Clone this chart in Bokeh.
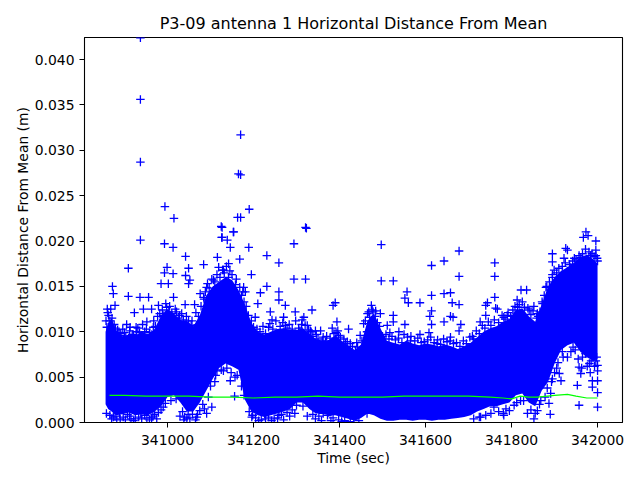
from bokeh.plotting import figure
from bokeh.models import Range1d, FixedTicker, PrintfTickFormatter
from bokeh.embed import file_html
from bokeh.resources import INLINE

# Dense core of the scatter: time (sec), upper and lower edge (m)
core_t = [340856, 340862, 340870, 340880, 340895, 340910, 340925, 340940, 340955, 340970, 340985,
          341000, 341015, 341030, 341045, 341060, 341075, 341090, 341105, 341120, 341135,
          341150, 341165, 341180, 341195, 341210, 341225, 341240, 341255, 341270, 341285,
          341300, 341315, 341330, 341345, 341360, 341375, 341390, 341405, 341420, 341435,
          341450, 341465, 341480, 341495, 341510, 341525, 341540, 341555, 341570, 341585,
          341600, 341615, 341630, 341645, 341660, 341675, 341690, 341705, 341720, 341735,
          341750, 341765, 341780, 341795, 341810, 341825, 341840, 341855, 341870, 341885,
          341900, 341915, 341930, 341945, 341960, 341975, 341990, 342000]
core_hi = [0.0100, 0.0110, 0.0115, 0.0102, 0.0095, 0.0097, 0.0096, 0.0100, 0.0097, 0.0103, 0.0118,
           0.0125, 0.0120, 0.0113, 0.0112, 0.0106, 0.0118, 0.0140, 0.0150, 0.0155, 0.0160,
           0.0157, 0.0146, 0.0130, 0.0110, 0.0100, 0.0097, 0.0100, 0.0103, 0.0104, 0.0102,
           0.0102, 0.0104, 0.0098, 0.0092, 0.0090, 0.0091, 0.0096, 0.0090, 0.0085, 0.0080,
           0.0086, 0.0112, 0.0120, 0.0104, 0.0090, 0.0088, 0.0086, 0.0090, 0.0087, 0.0085,
           0.0087, 0.0086, 0.0084, 0.0086, 0.0084, 0.0081, 0.0084, 0.0088, 0.0094, 0.0100,
           0.0104, 0.0106, 0.0111, 0.0114, 0.0124, 0.0126, 0.0117, 0.0111, 0.0130, 0.0150,
           0.0160, 0.0167, 0.0171, 0.0176, 0.0182, 0.0185, 0.0180, 0.0175]
core_lo = [0.0020, 0.0015, 0.0012, 0.0008, 0.0009, 0.0011, 0.0008, 0.0009, 0.0008, 0.0012, 0.0018,
           0.0028, 0.0030, 0.0022, 0.0012, 0.0012, 0.0022, 0.0035, 0.0048, 0.0060, 0.0065,
           0.0062, 0.0058, 0.0025, 0.0012, 0.0008, 0.0006, 0.0008, 0.0010, 0.0012, 0.0015,
           0.0022, 0.0022, 0.0015, 0.0010, 0.0010, 0.0008, 0.0008, 0.0006, 0.0004, 0.0002,
           0.0005, 0.0010, 0.0008, 0.0004, 0.0002, 0.0002, 0.0003, 0.0003, 0.0002, 0.0003,
           0.0003, 0.0002, 0.0003, 0.0003, 0.0004, 0.0005, 0.0006, 0.0008, 0.0012, 0.0015,
           0.0018, 0.0018, 0.0020, 0.0022, 0.0030, 0.0032, 0.0022, 0.0018, 0.0035, 0.0045,
           0.0065, 0.0080, 0.0085, 0.0088, 0.0078, 0.0072, 0.0068, 0.0070]

# Individual points outside the dense core: time (sec), distance (m)
pts_t = [340937, 340937, 340937, 340937, 340994, 341015, 341127, 341127, 341154, 341170,
         341170, 341170, 341190, 341323, 340993, 341013, 341042, 340909, 340999, 341049,
         341084, 340993, 341042, 341013, 340872, 340874, 340985, 341002, 341049, 341052,
         340909, 340936, 340956, 340860, 340878, 340923, 340944, 340963, 340979, 341014,
         341041, 341063,
         341116, 341125, 341126, 341139, 341153, 341146, 341163, 341165, 341119, 341130,
         341142, 341107, 341091, 341076, 341146, 341130, 341157, 341115, 341156,
         341168, 341189, 341231, 341259, 341321, 341294, 341294, 341321, 341195, 341231,
         341216, 341259, 341259, 341274, 341210, 341177, 341181, 341336, 341385, 341390,
         341394, 341421, 341468, 341476, 341239, 341297, 341317, 341344, 341367, 341387,
         341243, 341270, 341204, 341200, 341235, 341274, 341313, 341325, 341332, 341360,
         341398, 341414, 341437, 341456, 341464,
         341196, 341259, 341325, 341375, 341433, 341464, 341228,
         341497, 341497, 341525, 341678, 341643, 341614, 341678, 341761, 341761, 341761,
         341744, 341740, 341557, 341552, 341560, 341587, 341614, 341643, 341658, 341662,
         341678, 341763, 341767, 341484, 341495, 341525, 341525, 341614, 341610, 341643,
         341658, 341664, 341614, 341678, 341682, 341709, 341727, 341740, 341552, 341538,
         341517, 341511, 341587, 341608, 341658, 341782, 341790, 341565, 341627, 341697,
         341782, 341728, 341759,
         341973, 341967, 341978, 341996, 341926, 341930, 341895, 341895, 341996, 341996,
         341895, 341822, 341835, 341852, 341806, 341790, 341957, 342000, 341890, 341852,
         341837, 342000, 342000, 342000, 341988, 341988, 341957, 341961, 341953, 341915,
         341887, 341781, 341787, 341806,
         341922, 341946, 341961, 341984, 341880, 341872, 341860, 341841, 341814, 341899,
         341938,
         341860, 341868, 341891, 341911, 341930, 341981, 341996, 341821,
         340874, 340890, 340921, 340940, 340963, 340979, 341029, 341045, 341068, 341091,
         341103,
         340859, 340866, 340890, 340913, 340928, 340952, 340967, 340998, 341021, 341033,
         341049, 341068, 341084]
pts_v = [0.0424, 0.0356, 0.0287, 0.0201, 0.0238, 0.0225, 0.0215, 0.0204, 0.0210, 0.0317,
         0.0273, 0.0226, 0.0235, 0.0214, 0.0197, 0.0193, 0.0183, 0.0170, 0.0171, 0.0170,
         0.0174, 0.0165, 0.0162, 0.0164, 0.0150, 0.0142, 0.0153, 0.0153, 0.0153, 0.0157,
         0.0139, 0.0138, 0.0138, 0.0125, 0.0129, 0.0121, 0.0125, 0.0125, 0.0129, 0.0138,
         0.0130, 0.0130,
         0.0182, 0.0216, 0.0204, 0.0201, 0.0210, 0.0193, 0.0226, 0.0274, 0.0171, 0.0168,
         0.0175, 0.0157, 0.0149, 0.0142, 0.0046, 0.0057, 0.0050, 0.0057, 0.0029,
         0.0180, 0.0193, 0.0184, 0.0176, 0.0215, 0.0197, 0.0158, 0.0158, 0.0163, 0.0150,
         0.0143, 0.0144, 0.0135, 0.0129, 0.0131, 0.0149, 0.0144, 0.0124, 0.0129, 0.0132,
         0.0111, 0.0103, 0.0122, 0.0124, 0.0122, 0.0122, 0.0116, 0.0101, 0.0089, 0.0098,
         0.0113, 0.0116, 0.0116, 0.0098, 0.0105, 0.0107, 0.0113, 0.0107, 0.0101, 0.0090,
         0.0096, 0.0087, 0.0079, 0.0109, 0.0100,
         0.0006, 0.0008, 0.0007, 0.0011, 0.0004, 0.0010, 0.0004,
         0.0196, 0.0156, 0.0156, 0.0189, 0.0178, 0.0173, 0.0161, 0.0176, 0.0161, 0.0138,
         0.0132, 0.0129, 0.0144, 0.0137, 0.0132, 0.0132, 0.0140, 0.0142, 0.0143, 0.0132,
         0.0130, 0.0126, 0.0125, 0.0123, 0.0120, 0.0118, 0.0111, 0.0123, 0.0117, 0.0111,
         0.0117, 0.0116, 0.0108, 0.0101, 0.0108, 0.0095, 0.0111, 0.0118, 0.0108, 0.0100,
         0.0099, 0.0107, 0.0097, 0.0099, 0.0094, 0.0116, 0.0105, 0.0090, 0.0087, 0.0083,
         0.0008, 0.0006, 0.0017,
         0.0210, 0.0204, 0.0206, 0.0200, 0.0192, 0.0190, 0.0186, 0.0177, 0.0190, 0.0184,
         0.0160, 0.0146, 0.0146, 0.0128, 0.0118, 0.0118, 0.0019, 0.0017, 0.0009, 0.0004,
         0.0010, 0.0057, 0.0046, 0.0033, 0.0039, 0.0046, 0.0061, 0.0054, 0.0041, 0.0046,
         0.0021, 0.0010, 0.0015, 0.0019,
         0.0181, 0.0181, 0.0182, 0.0184, 0.0149, 0.0131, 0.0120, 0.0124, 0.0127, 0.0168,
         0.0171,
         0.0013, 0.0024, 0.0032, 0.0054, 0.0072, 0.0065, 0.0068, 0.0024,
         0.0006, 0.0004, 0.0002, 0.0004, 0.0005, 0.0011, 0.0007, 0.0004, 0.0006, 0.0010,
         0.0017,
         0.0105, 0.0112, 0.0098, 0.0105, 0.0100, 0.0111, 0.0105, 0.0127, 0.0122, 0.0120,
         0.0112, 0.0107, 0.0138]

# Points along the ragged edges of the dense core: time (sec), distance (m)
edge_t = [340863, 340868, 340876, 340884, 340892, 340900, 340905, 340918, 340931, 340947,
          340958, 340972, 340982, 340990,
          340866, 340882, 340897, 340907, 340915, 340933, 340947, 340958, 340970, 340985,
          340995,
          341005, 341010, 341025, 341037, 341055, 341062, 341072,
          341008, 341020, 341035, 341040, 341052, 341058, 341065, 341075, 341082,
          341088, 341097, 341110, 341122, 341132, 341142, 341150, 341158, 341172, 341178,
          341095, 341100, 341112, 341125, 341138, 341148, 341162, 341172, 341178, 341110,
          341188, 341200, 341215, 341228, 341245, 341262, 341278, 341290, 341305, 341312,
          341328, 341338,
          341190, 341205, 341218, 341235, 341248, 341265, 341278, 341290, 341300, 341315,
          341338, 341352,
          341350, 341362, 341378, 341392, 341402, 341418, 341430, 341442, 341452, 341460,
          341362, 341372, 341385, 341398, 341412, 341445,
          341470, 341478, 341488, 341500, 341515, 341530, 341545, 341558, 341575, 341590,
          341605, 341620, 341635, 341650, 341665, 341680, 341695, 341712, 341725, 341738,
          341752, 341770, 341785, 341798,
          341712, 341725, 341740, 341752, 341770, 341795,
          341808, 341818, 341830, 341845, 341858, 341866, 341876, 341888, 341905, 341918,
          341935, 341950, 341965, 341980, 341992, 342000,
          341812, 341828, 341845, 341855, 341865, 341878, 341895, 341905, 341920, 341938,
          341948, 341965, 341972, 341985, 341998]
edge_v = [0.0118, 0.0125, 0.0108, 0.0102, 0.0096, 0.0099, 0.0108, 0.0097, 0.0104, 0.0100,
          0.0099, 0.0106, 0.0120, 0.0118,
          0.0008, 0.0003, 0.0006, 0.0009, 0.0004, 0.0006, 0.0008, 0.0003, 0.0009, 0.0014,
          0.0021,
          0.0128, 0.0120, 0.0115, 0.0113, 0.0107, 0.0104, 0.0117,
          0.0024, 0.0026, 0.0012, 0.0006, 0.0005, 0.0009, 0.0003, 0.0013, 0.0020,
          0.0144, 0.0148, 0.0155, 0.0160, 0.0165, 0.0160, 0.0163, 0.0152, 0.0140, 0.0133,
          0.0028, 0.0040, 0.0052, 0.0058, 0.0060, 0.0055, 0.0052, 0.0040, 0.0030, 0.0045,
          0.0118, 0.0105, 0.0100, 0.0098, 0.0103, 0.0106, 0.0104, 0.0103, 0.0104, 0.0108,
          0.0102, 0.0095,
          0.0012, 0.0005, 0.0003, 0.0006, 0.0004, 0.0009, 0.0011, 0.0014, 0.0019, 0.0018,
          0.0009, 0.0007,
          0.0092, 0.0094, 0.0093, 0.0099, 0.0094, 0.0089, 0.0084, 0.0083, 0.0090, 0.0112,
          0.0010, 0.0008, 0.0005, 0.0003, 0.0002, 0.0002,
          0.0116, 0.0122, 0.0110, 0.0095, 0.0092, 0.0091, 0.0088, 0.0094, 0.0090, 0.0088,
          0.0091, 0.0088, 0.0086, 0.0089, 0.0087, 0.0084, 0.0087, 0.0092, 0.0098, 0.0104,
          0.0107, 0.0110, 0.0114, 0.0117,
          0.0004, 0.0006, 0.0008, 0.0010, 0.0012, 0.0013,
          0.0128, 0.0130, 0.0127, 0.0119, 0.0115, 0.0122, 0.0140, 0.0155, 0.0165, 0.0172,
          0.0174, 0.0180, 0.0186, 0.0188, 0.0183, 0.0178,
          0.0022, 0.0024, 0.0014, 0.0010, 0.0020, 0.0028, 0.0048, 0.0060, 0.0072, 0.0078,
          0.0080, 0.0072, 0.0076, 0.0068, 0.0072]

# Second ring of fringe points further out from the core
fringe_t = [340857, 340861, 340871, 340879, 340887, 340896, 340903, 340912, 340921, 340927,
            340935, 340942, 340951, 340962, 340968, 340977, 340988, 340996, 341003, 341018,
            341028, 341044, 341057, 341066, 341078,
            340858, 340870, 340878, 340888, 340902, 340912, 340925, 340938, 340952, 340966,
            340975, 340990, 341038, 341048, 341070, 341086,
            341085, 341093, 341103, 341115, 341128, 341137, 341145, 341160, 341168, 341175,
            341183,
            341195, 341208, 341222, 341238, 341252, 341268, 341283, 341298, 341308, 341320,
            341334, 341346, 341356, 341370, 341383, 341396, 341410, 341425, 341440, 341448,
            341198, 341212, 341226, 341242, 341256, 341270, 341284, 341296, 341344, 341358,
            341380, 341405, 341425,
            341465, 341474, 341483, 341493, 341508, 341522, 341537, 341550, 341566, 341582,
            341597, 341612, 341628, 341642, 341657, 341672, 341688, 341703, 341718, 341732,
            341746, 341760, 341778, 341792,
            341803, 341813, 341825, 341838, 341850, 341862, 341871, 341882, 341895, 341910,
            341925, 341942, 341957, 341972, 341987, 341999,
            341883, 341893, 341900, 341908, 341918, 341943, 341955, 341963, 341976, 341983,
            341993, 342000]
fringe_v = [0.0112, 0.0121, 0.0115, 0.0104, 0.0099, 0.0103, 0.0094, 0.0101, 0.0096, 0.0105,
            0.0099, 0.0108, 0.0103, 0.0097, 0.0112, 0.0117, 0.0124, 0.0131, 0.0122, 0.0125,
            0.0118, 0.0117, 0.0112, 0.0121, 0.0128,
            0.0010, 0.0004, 0.0007, 0.0010, 0.0003, 0.0007, 0.0004, 0.0010, 0.0005, 0.0007,
            0.0004, 0.0017, 0.0003, 0.0009, 0.0009, 0.0015,
            0.0136, 0.0153, 0.0158, 0.0163, 0.0168, 0.0172, 0.0167, 0.0158, 0.0149, 0.0144,
            0.0128,
            0.0112, 0.0103, 0.0106, 0.0109, 0.0112, 0.0110, 0.0108, 0.0112, 0.0101, 0.0107,
            0.0100, 0.0097, 0.0101, 0.0095, 0.0104, 0.0101, 0.0092, 0.0087, 0.0088, 0.0096,
            0.0008, 0.0002, 0.0009, 0.0002, 0.0005, 0.0003, 0.0007, 0.0010, 0.0004, 0.0002,
            0.0002, 0.0001, 0.0001,
            0.0120, 0.0129, 0.0117, 0.0106, 0.0097, 0.0095, 0.0093, 0.0097, 0.0095, 0.0093,
            0.0089, 0.0094, 0.0091, 0.0092, 0.0090, 0.0088, 0.0090, 0.0094, 0.0101, 0.0107,
            0.0111, 0.0113, 0.0118, 0.0121,
            0.0124, 0.0135, 0.0133, 0.0126, 0.0123, 0.0117, 0.0133, 0.0150, 0.0163, 0.0170,
            0.0176, 0.0178, 0.0184, 0.0191, 0.0186, 0.0181,
            0.0038, 0.0045, 0.0055, 0.0066, 0.0078, 0.0083, 0.0070, 0.0060, 0.0062, 0.0055,
            0.0062, 0.0063]

# Green reference line
mean_t = [340865, 340900, 340950, 341000, 341050, 341100, 341150, 341200, 341250, 341300,
          341350, 341400, 341450, 341500, 341550, 341600, 341650, 341700, 341750, 341780,
          341800, 341820, 341840, 341860, 341900, 341930, 341950, 341975, 342000]
mean_v = [0.0030, 0.0030, 0.0029, 0.0029, 0.0029, 0.0028, 0.0028, 0.0027, 0.0028, 0.0028,
          0.0029, 0.0028, 0.0028, 0.0028, 0.0029, 0.0029, 0.0029, 0.0029, 0.0028, 0.0027,
          0.0026, 0.0029, 0.0028, 0.0028, 0.0030, 0.0031, 0.0029, 0.0027, 0.0027]

x_ticks = [341000, 341200, 341400, 341600, 341800, 342000]
y_ticks = [0.0, 0.005, 0.010, 0.015, 0.020, 0.025, 0.030, 0.035, 0.040]

FONT = "DejaVu Sans"

p = figure(width=640, height=480, output_backend="svg", toolbar_location=None,
           x_range=Range1d(340807, 342058), y_range=Range1d(0, 0.04243),
           min_border_left=84, min_border_right=18, min_border_top=37, min_border_bottom=58,
           title="P3-09 antenna 1 Horizontal Distance From Mean")

p.title.text_font = FONT
p.title.text_font_size = "16px"
p.title.text_font_style = "normal"
p.title.align = "center"
p.title.text_color = "black"

p.varea(x=core_t, y1=core_lo, y2=core_hi, fill_color="#0000ff", fill_alpha=1.0)
for xs, ys in ((pts_t, pts_v), (edge_t, edge_v), (fringe_t, fringe_v)):
    p.scatter(x=xs, y=ys, marker="cross", size=8.5, line_color="#0000ff", line_width=1.3)
p.line(x=mean_t, y=mean_v, line_color="#00ff00", line_width=1.2)

p.xgrid.visible = False
p.ygrid.visible = False
p.outline_line_color = "black"
p.outline_line_width = 1.1
p.background_fill_color = "white"
p.border_fill_color = "white"

p.xaxis.ticker = FixedTicker(ticks=x_ticks)
p.yaxis.ticker = FixedTicker(ticks=y_ticks)
p.xaxis.formatter = PrintfTickFormatter(format="%d")
p.yaxis.formatter = PrintfTickFormatter(format="%.3f")
p.xaxis.axis_label = "Time (sec)"
p.yaxis.axis_label = "Horizontal Distance From Mean (m)"

for ax in (p.xaxis, p.yaxis):
    ax.axis_label_text_font = FONT
    ax.axis_label_text_font_size = "13.9px"
    ax.axis_label_text_font_style = "normal"
    ax.axis_label_text_color = "black"
    ax.major_label_text_font = FONT
    ax.major_label_text_font_size = "13.9px"
    ax.major_label_text_color = "black"
    ax.major_tick_out = 5
    ax.major_tick_in = 0
    ax.minor_tick_out = 0
    ax.minor_tick_in = 0
    ax.major_tick_line_color = "black"
    ax.axis_line_color = "black"

p.xaxis.major_label_standoff = 7
p.xaxis.axis_label_standoff = 2
p.yaxis.major_label_standoff = 5
p.yaxis.axis_label_standoff = 1

open("out.html", "w").write(file_html(p, INLINE))
